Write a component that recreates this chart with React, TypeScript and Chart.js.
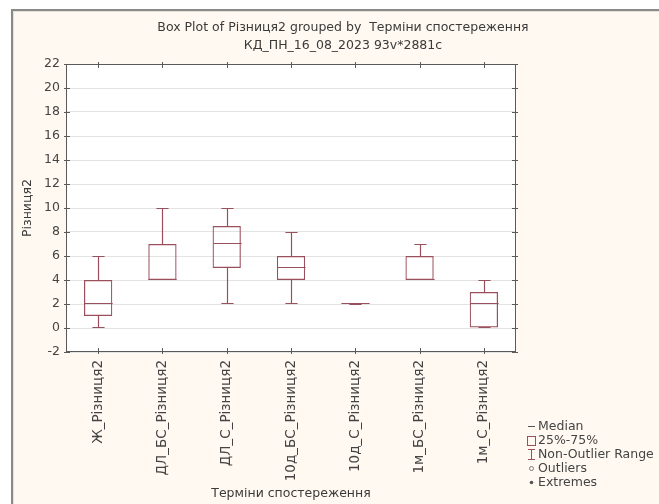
import { useEffect, useRef } from "react";
import { Chart, registerables } from "chart.js";

Chart.register(...registerables);

// Category names (one box per observation term)
const categories = [
  "Ж_Різниця2",
  "ДЛ_БС_Різниця2",
  "ДЛ_С_Різниця2",
  "10д_БС_Різниця2",
  "10д_С_Різниця2",
  "1м_БС_Різниця2",
  "1м_С_Різниця2",
];

// Box-plot statistics per category
const lowerWhisker = [0, 4, 2, 2, 2, 4, 0];
const quartile1 = [1, 4, 5, 4, 2, 4, 0];
const medians = [2, 4, 7, 5, 2, 4, 2];
const quartile3 = [4, 7, 8.5, 6, 2, 6, 3];
const upperWhisker = [6, 10, 10, 8, 2, 7, 4];

const yTickValues = [-2, 0, 2, 4, 6, 8, 10, 12, 14, 16, 18, 20, 22];

const titleLines = [
  "Box Plot of Різниця2 grouped by  Терміни спостереження",
  "КД_ПН_16_08_2023 93v*2881c",
];
const yAxisTitle = "Різниця2";
const xAxisTitle = "Терміни спостереження";
const legendLabels = ["Median", "25%-75%", "Non-Outlier Range", "Outliers", "Extremes"];

const BOX_COLOR = "#9a4f5c";
const AXIS_COLOR = "#5a5a5a";
const TEXT_COLOR = "#444444";
const PANEL_COLOR = "#fff9f1";
const PANEL_EDGE = "#8a8a8a";
const FONT_FAMILY = "'DejaVu Sans', 'Liberation Sans', sans-serif";
const FONT_SIZE = 12.5;

const WIDTH = 659;
const HEIGHT = 504;

const boxPlotPlugin = {
  id: "boxPlotParts",
  beforeDraw(chart: any) {
    const { ctx, chartArea: a, width, height } = chart;
    ctx.save();
    // window panel with its raised top/left edge
    ctx.fillStyle = PANEL_COLOR;
    ctx.fillRect(11, 9, width - 11, height - 9);
    ctx.fillStyle = PANEL_EDGE;
    ctx.fillRect(11, 9, width - 11, 2);
    ctx.fillRect(11, 9, 2, height - 9);
    ctx.fillStyle = "#e6e1d8";
    ctx.fillRect(13, 11, width - 13, 1);
    ctx.fillRect(13, 11, 1, height - 11);
    // plot background
    ctx.fillStyle = "#ffffff";
    ctx.fillRect(a.left, a.top, a.right - a.left, a.bottom - a.top);
    ctx.restore();
  },
  afterDatasetsDraw(chart: any) {
    const { ctx } = chart;
    const xs = chart.scales.x;
    const ys = chart.scales.y;
    const meta = chart.getDatasetMeta(0);
    const py = (v: number) => Math.round(ys.getPixelForValue(v)) + 0.5;
    ctx.save();
    ctx.strokeStyle = BOX_COLOR;
    ctx.lineWidth = 1.2;
    categories.forEach((_, i) => {
      const cx = Math.round(xs.getPixelForValue(i)) + 0.5;
      const half = meta.data[i].width / 2;
      const capHalf = half * 0.43;
      const medY = py(medians[i]) - 1;
      ctx.beginPath();
      // upper whisker and cap
      ctx.moveTo(cx, py(quartile3[i]));
      ctx.lineTo(cx, py(upperWhisker[i]));
      ctx.moveTo(cx - capHalf, py(upperWhisker[i]));
      ctx.lineTo(cx + capHalf, py(upperWhisker[i]));
      // lower whisker and cap
      ctx.moveTo(cx, py(quartile1[i]) - 1);
      ctx.lineTo(cx, py(lowerWhisker[i]) - 1);
      ctx.moveTo(cx - capHalf, py(lowerWhisker[i]) - 1);
      ctx.lineTo(cx + capHalf, py(lowerWhisker[i]) - 1);
      // median
      ctx.moveTo(cx - half, medY);
      ctx.lineTo(cx + half, medY);
      ctx.stroke();
    });
    ctx.restore();
  },
  afterDraw(chart: any) {
    const { ctx, chartArea: a } = chart;
    const xs = chart.scales.x;
    const ys = chart.scales.y;
    ctx.save();
    // plot frame
    ctx.strokeStyle = AXIS_COLOR;
    ctx.lineWidth = 1;
    ctx.strokeRect(a.left + 0.5, a.top + 0.5, a.right - a.left - 1, a.bottom - a.top - 1);
    // tick marks crossing the frame
    ctx.beginPath();
    yTickValues.forEach((v) => {
      const y = Math.round(ys.getPixelForValue(v)) + 0.5;
      ctx.moveTo(a.left - 2, y);
      ctx.lineTo(a.left + 4, y);
      ctx.moveTo(a.right - 4, y);
      ctx.lineTo(a.right + 2, y);
    });
    categories.forEach((_, i) => {
      const x = Math.round(xs.getPixelForValue(i)) + 0.5;
      ctx.moveTo(x, a.bottom - 4);
      ctx.lineTo(x, a.bottom + 2);
      ctx.moveTo(x, a.top - 2);
      ctx.lineTo(x, a.top + 4);
    });
    ctx.stroke();

    // legend
    const x0 = a.right + 11;
    const y0 = a.bottom + 74;
    const step = 14;
    ctx.font = `${FONT_SIZE}px ${FONT_FAMILY}`;
    ctx.textBaseline = "middle";
    ctx.textAlign = "left";
    legendLabels.forEach((label, i) => {
      const y = Math.round(y0 + i * step) + 0.5;
      ctx.lineWidth = 1;
      if (i === 0) {
        ctx.strokeStyle = "#555555";
        ctx.beginPath();
        ctx.moveTo(x0 + 1, y);
        ctx.lineTo(x0 + 8, y);
        ctx.stroke();
      } else if (i === 1) {
        ctx.strokeStyle = BOX_COLOR;
        ctx.strokeRect(x0 + 0.5, y - 4, 8, 9);
      } else if (i === 2) {
        ctx.strokeStyle = BOX_COLOR;
        ctx.beginPath();
        ctx.moveTo(x0 + 4.5, y - 5);
        ctx.lineTo(x0 + 4.5, y + 5);
        ctx.moveTo(x0 + 1, y - 5);
        ctx.lineTo(x0 + 8, y - 5);
        ctx.moveTo(x0 + 1, y + 5);
        ctx.lineTo(x0 + 8, y + 5);
        ctx.stroke();
      } else if (i === 3) {
        ctx.strokeStyle = "#777777";
        ctx.beginPath();
        ctx.arc(x0 + 4.5, y, 2, 0, Math.PI * 2);
        ctx.stroke();
      } else {
        ctx.fillStyle = "#555555";
        ctx.beginPath();
        ctx.arc(x0 + 4.5, y, 1.8, 0, Math.PI * 2);
        ctx.fill();
      }
      ctx.fillStyle = TEXT_COLOR;
      ctx.fillText(label, x0 + 11, y);
    });
    ctx.restore();
  },
};

export default function App() {
  const canvasRef = useRef<HTMLCanvasElement | null>(null);

  useEffect(() => {
    const canvas = canvasRef.current;
    if (!canvas) return;
    const font = { family: FONT_FAMILY, size: FONT_SIZE, weight: "normal" };
    const chart = new Chart(canvas, {
      type: "bar",
      data: {
        labels: categories,
        datasets: [
          {
            data: categories.map((_, i) => [quartile1[i], quartile3[i]]) as any,
            backgroundColor: "rgba(255,255,255,0)",
            borderColor: BOX_COLOR,
            borderWidth: 1.2,
            borderSkipped: false,
            barPercentage: 0.44,
            categoryPercentage: 1,
          },
        ],
      },
      options: {
        animation: false,
        responsive: false,
        devicePixelRatio: 1,
        layout: { padding: { left: 27, top: 11, right: 0, bottom: 0 } },
        plugins: {
          legend: { display: false },
          tooltip: { enabled: false },
          title: {
            display: true,
            text: titleLines,
            color: "#3a3a3a",
            font: { family: FONT_FAMILY, size: FONT_SIZE, weight: "normal", lineHeight: "18px" } as any,
            padding: { top: 8, bottom: 9 },
          },
        },
        scales: {
          x: {
            type: "category",
            offset: true,
            grid: { display: false, drawTicks: false },
            border: { display: false },
            ticks: {
              autoSkip: false,
              maxRotation: 90,
              minRotation: 90,
              padding: 8,
              color: TEXT_COLOR,
              font: { family: FONT_FAMILY, size: 13.5, weight: "normal" },
            },
            title: {
              display: true,
              text: xAxisTitle,
              color: "#3a3a3a",
              font,
              padding: { top: 0, bottom: 2.5 },
            },
            afterFit: (s: any) => {
              s.height = 152;
            },
          },
          y: {
            type: "linear",
            position: "left",
            min: -2,
            max: 22,
            afterBuildTicks: (s: any) => {
              s.ticks = yTickValues.map((v) => ({ value: v }));
            },
            grid: { color: "#e3e3e3", lineWidth: 1, drawTicks: false },
            border: { display: false },
            ticks: { padding: 6, color: TEXT_COLOR, font },
            title: {
              display: true,
              text: yAxisTitle,
              color: "#3a3a3a",
              font,
              padding: { top: -6.5, bottom: 0 },
            },
            afterFit: (s: any) => {
              s.width = 39;
            },
          },
          legendSpace: {
            type: "linear",
            position: "right",
            display: true,
            grid: { display: false },
            border: { display: false },
            ticks: { display: false },
            afterFit: (s: any) => {
              s.width = 143;
            },
          },
        },
      } as any,
      plugins: [boxPlotPlugin],
    });
    return () => chart.destroy();
  }, []);

  return (
    <div style={{ position: "absolute", left: 0, top: 0, width: WIDTH, height: HEIGHT, overflow: "hidden" }}>
      <canvas
        ref={canvasRef}
        width={WIDTH}
        height={HEIGHT}
        style={{ display: "block", width: WIDTH, height: HEIGHT }}
      />
    </div>
  );
}
